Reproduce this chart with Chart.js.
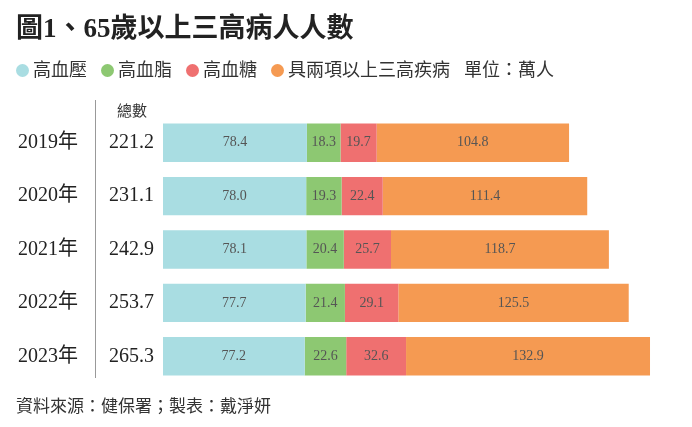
<!DOCTYPE html>
<html>
<head>
<meta charset="utf-8">
<script src="https://cdn.jsdelivr.net/npm/chart.js@4"></script>
<style>
  body { margin: 0; background: #fff; }
  #wrap { position: relative; width: 692px; height: 427px; font-family: "Liberation Serif", "Noto Sans CJK TC", serif; }
  canvas { position: absolute; left: 0; top: 0; }
  .title { position: absolute; left: 16px; top: 6px; font-size: 27px; font-weight: bold; color: #222; font-family: "Liberation Serif", "Noto Sans CJK TC"; }
  .legend { position: absolute; left: 16px; top: 55px; font-size: 18px; color: #333; font-family: "Noto Sans CJK TC"; white-space: nowrap; }
  .legend span.dot { display: inline-block; width: 13px; height: 13px; border-radius: 50%; margin-right: 4px; vertical-align: -1px; }
  .legend span.item { margin-right: 14px; }
  .source { position: absolute; left: 16px; top: 392px; font-size: 17px; color: #333; font-family: "Noto Sans CJK TC"; }
  .hdr { position: absolute; left: 117px; top: 99px; font-size: 15px; color: #333; font-family: "Noto Sans CJK TC"; }
  .vline { position: absolute; left: 95px; top: 100px; width: 1px; height: 278px; background: #999; }
</style>
</head>
<body>
<div id="wrap">
  <canvas id="chart" width="692" height="427"></canvas>
  <div class="title">圖1、65歲以上三高病人人數</div>
  <div class="legend" id="legend"></div>
  <div class="hdr">總數</div>
  <div class="vline"></div>
  <div class="source">資料來源：健保署；製表：戴淨妍</div>
</div>
<script>
// data
const years = ['2019年', '2020年', '2021年', '2022年', '2023年'];
const totals = ['221.2', '231.1', '242.9', '253.7', '265.3'];
const hypertension = [78.4, 78.0, 78.1, 77.7, 77.2];
const hyperlipidemia = [18.3, 19.3, 20.4, 21.4, 22.6];
const hyperglycemia = [19.7, 22.4, 25.7, 29.1, 32.6];
const multiple = [104.8, 111.4, 118.7, 125.5, 132.9];

const seriesNames = ['高血壓', '高血脂', '高血糖', '具兩項以上三高疾病'];
const seriesColors = ['#a9dde2', '#8dc872', '#ef7070', '#f59a52'];
const seriesData = [hypertension, hyperlipidemia, hyperglycemia, multiple];

const legend = document.getElementById('legend');
legend.innerHTML = seriesNames.map((n, i) =>
  `<span class="item"><span class="dot" style="background:${seriesColors[i]}"></span>${n}</span>`
).join('') + '<span>單位：萬人</span>';

const sideLabels = {
  id: 'sideLabels',
  afterDatasetsDraw(chart) {
    const { ctx, scales: { y } } = chart;
    ctx.save();
    ctx.font = '20px "Liberation Serif", "Noto Sans CJK TC"';
    ctx.fillStyle = '#222';
    ctx.textBaseline = 'middle';
    years.forEach((yr, i) => {
      const py = y.getPixelForValue(i);
      ctx.textAlign = 'left';
      ctx.fillText(yr, 18, py);
      ctx.textAlign = 'right';
      ctx.fillText(totals[i], 154, py);
    });
    // values inside segments
    ctx.font = '14px "Liberation Serif"';
    ctx.fillStyle = '#555';
    ctx.textAlign = 'center';
    chart.data.datasets.forEach((ds, di) => {
      chart.getDatasetMeta(di).data.forEach((bar, i) => {
        const cx = (bar.x + bar.base) / 2;
        ctx.fillText(ds.data[i].toFixed(1), cx, bar.y);
      });
    });
    ctx.restore();
  }
};

new Chart(document.getElementById('chart'), {
  type: 'bar',
  data: {
    labels: years,
    datasets: seriesNames.map((n, i) => ({
      label: n,
      data: seriesData[i],
      backgroundColor: seriesColors[i],
      borderWidth: 0,
      categoryPercentage: 1,
      barPercentage: 0.72
    }))
  },
  options: {
    indexAxis: 'y',
    responsive: false,
    animation: false,
    layout: { padding: { left: 163, right: 15, top: 116, bottom: 44 } },
    plugins: { legend: { display: false }, tooltip: { enabled: false } },
    scales: {
      x: { stacked: true, min: 0, max: 280, display: false },
      y: { stacked: true, display: false }
    }
  },
  plugins: [sideLabels]
});
</script>
</body>
</html>
